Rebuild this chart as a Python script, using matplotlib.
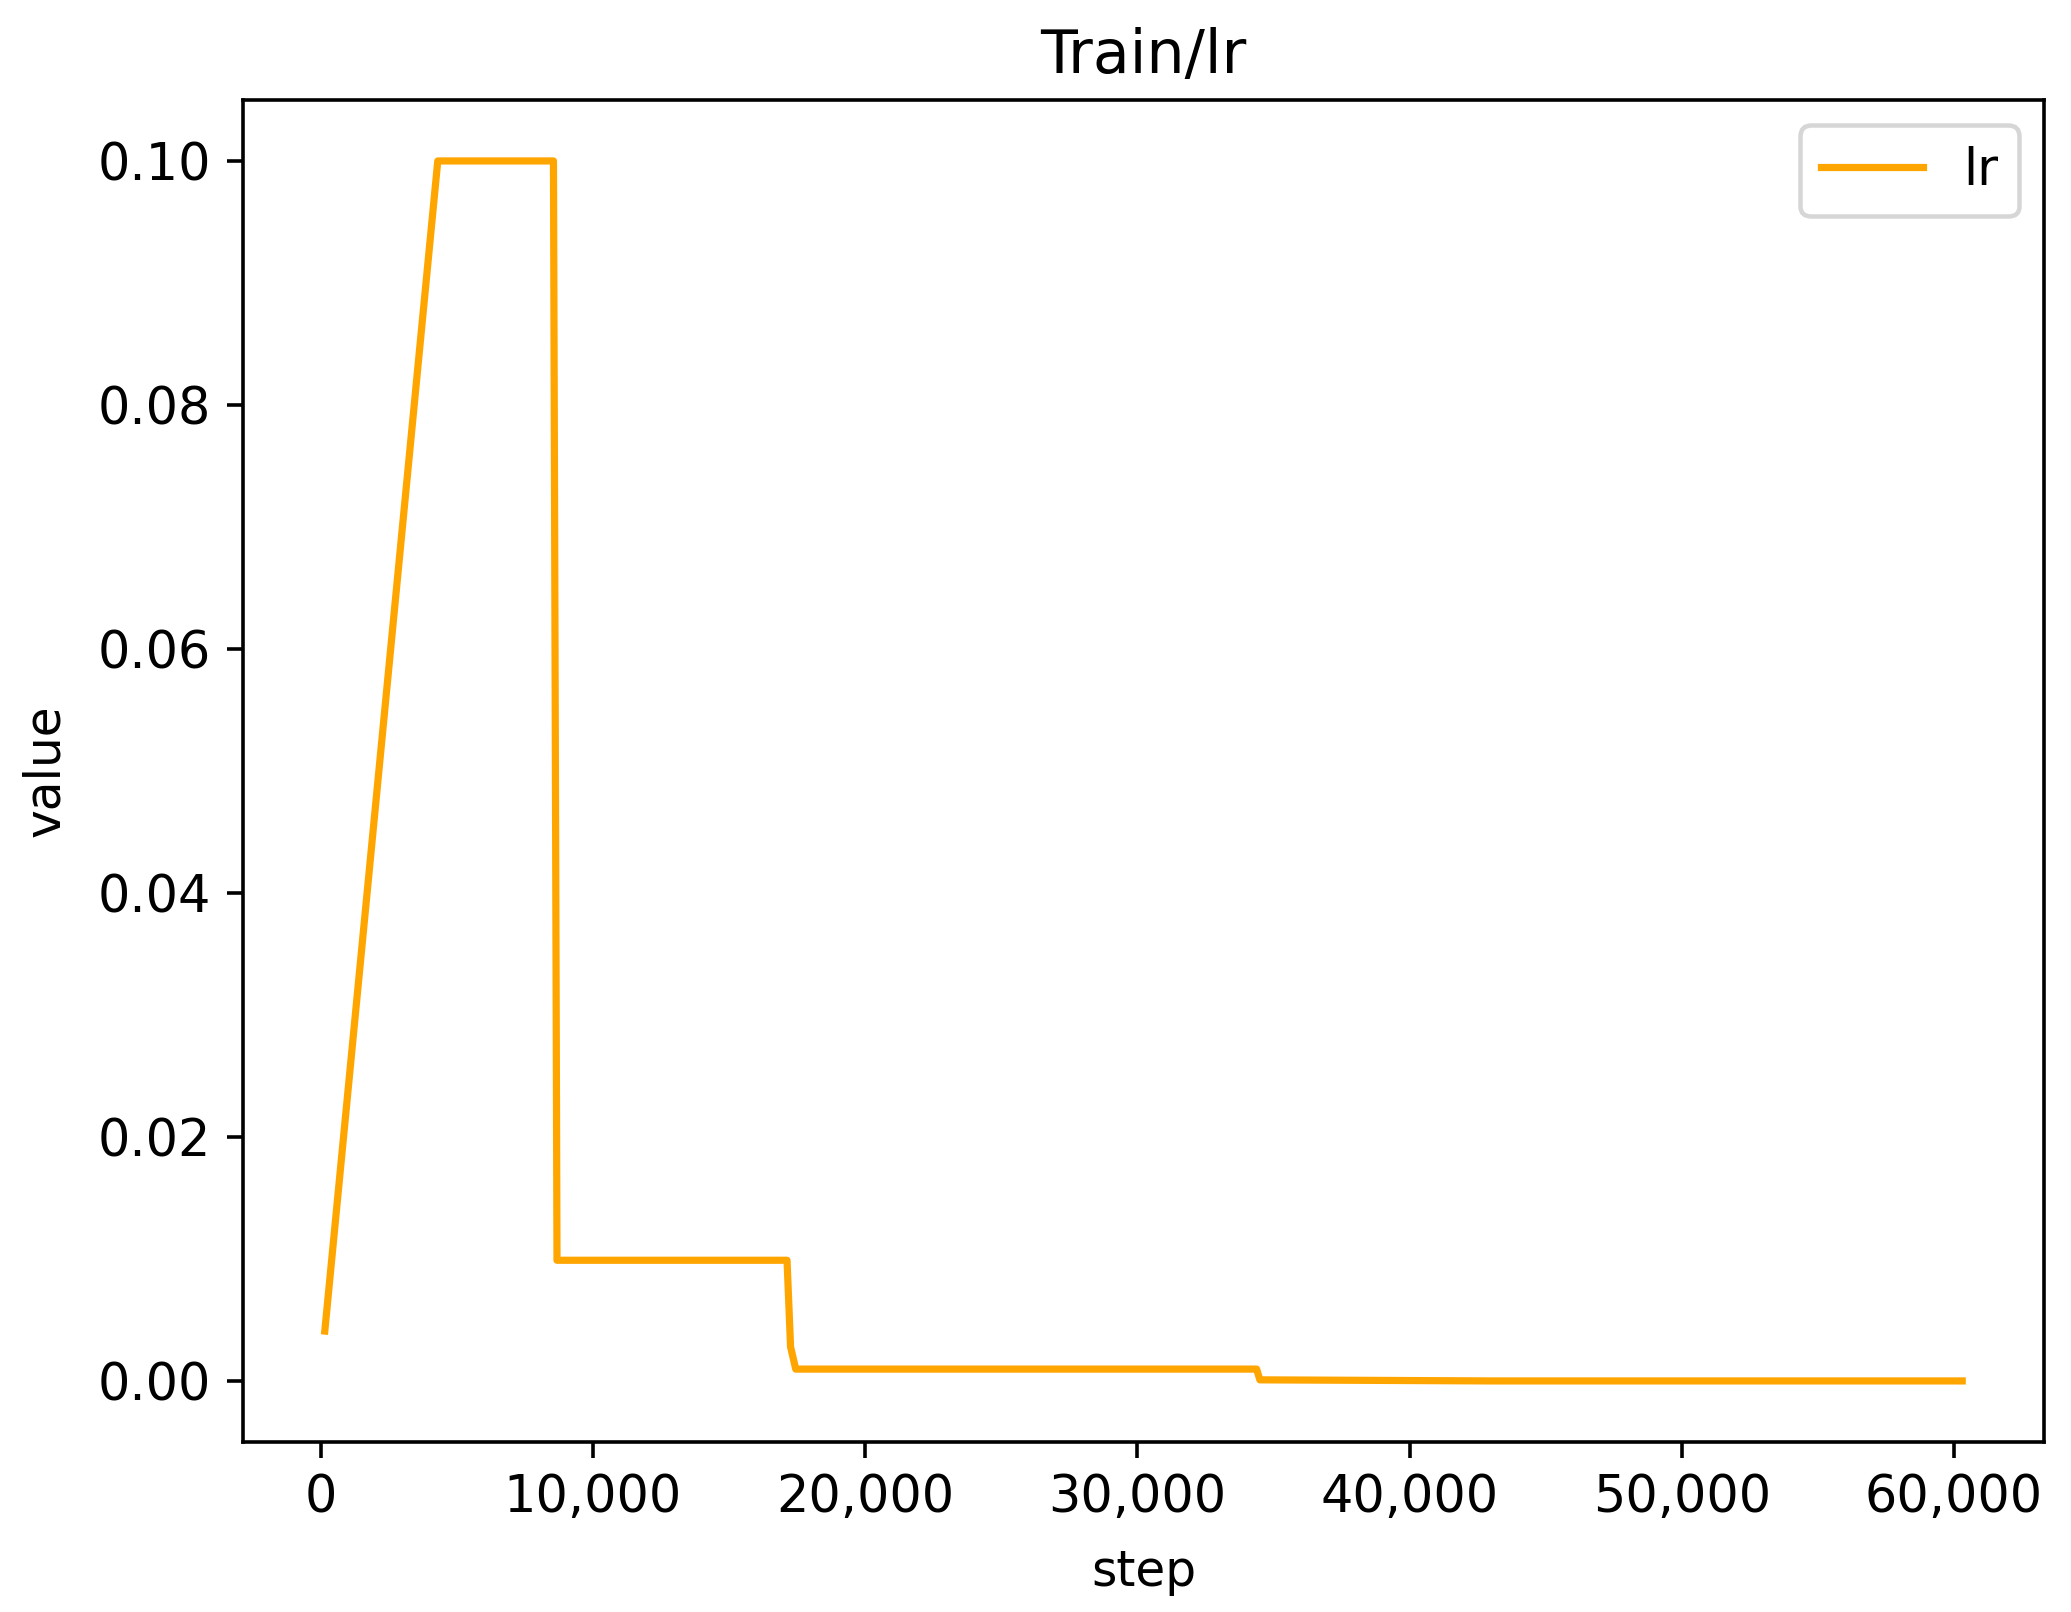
import numpy as np
import matplotlib.pyplot as plt
from matplotlib.ticker import StrMethodFormatter

# step / learning-rate values
steps = [150, 4300, 8550, 8680, 17130, 17260, 17450, 34380, 34500, 43000, 60300]
lr = [0.0041, 0.1, 0.1, 0.0099, 0.0099, 0.0028, 0.00098, 0.00098, 0.0001, 0.00001, 0.00001]

plt.rcParams["font.size"] = 11.3

fig, ax = plt.subplots(figsize=(2071/324, 1612/324), dpi=324)
fig.subplots_adjust(left=0.1173, right=0.987, bottom=0.1055, top=0.938)

ax.plot(steps, lr, color="orange", lw=1.6, label="lr")
ax.set_title("Train/lr", fontsize=13.4)
ax.set_xlabel("step", fontsize=10.8, labelpad=5.5)
ax.set_ylabel("value", fontsize=10.8, labelpad=6.5)
ax.xaxis.set_major_formatter(StrMethodFormatter("{x:,.0f}"))
ax.legend(loc="upper right")

plt.savefig("out.png")
